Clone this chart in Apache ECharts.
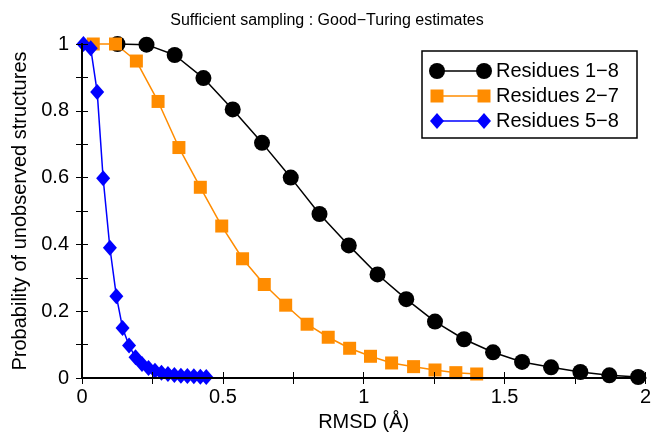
<!DOCTYPE html>
<html>
<head>
<meta charset="utf-8">
<script src="https://cdn.jsdelivr.net/npm/echarts@6/dist/echarts.min.js"></script>
<style>
html,body{margin:0;padding:0;background:#fff;}
#chart{width:654px;height:437px;}
</style>
</head>
<body>
<div id="chart"></div>
<script>
// ---- data ----
const titleText = 'Sufficient sampling : Good\u2212Turing estimates';
const xName = 'RMSD (\u00c5)';
const yName = 'Probability of unobserved structures';
const seriesNames = ['Residues 1\u22128', 'Residues 2\u22127', 'Residues 5\u22128'];

const rmsd18 = [0.126,0.229,0.329,0.431,0.535,0.639,0.741,0.843,0.947,1.049,1.151,1.253,1.356,1.459,1.562,1.665,1.769,1.872,1.974];
const prob18 = [1.0,0.998,0.967,0.898,0.804,0.704,0.600,0.491,0.397,0.310,0.236,0.169,0.116,0.077,0.048,0.032,0.018,0.008,0.003];

const rmsd27 = [0.040,0.119,0.193,0.270,0.344,0.420,0.496,0.570,0.647,0.723,0.799,0.874,0.950,1.024,1.099,1.177,1.253,1.327,1.401];
const prob27 = [1.0,1.0,0.949,0.828,0.690,0.571,0.455,0.357,0.280,0.218,0.161,0.122,0.089,0.065,0.045,0.034,0.024,0.016,0.012];

const rmsd58 = [0.005,0.031,0.054,0.075,0.099,0.122,0.144,0.167,0.190,0.213,0.236,0.259,0.282,0.305,0.328,0.351,0.374,0.397,0.420,0.441];
const prob58 = [1.0,0.987,0.856,0.598,0.390,0.245,0.150,0.097,0.062,0.042,0.030,0.022,0.016,0.012,0.009,0.007,0.006,0.005,0.004,0.003];

const xTicks = [0, 0.5, 1, 1.5, 2];
const yTicks = [0, 0.2, 0.4, 0.6, 0.8, 1];

// ---- chart ----
const FONT = 'Liberation Sans';
const colors = ['#000000', '#ff8c00', '#0000ff'];
const symbols = ['circle', 'rect', 'diamond'];
const symSizes = [16, 13, [14, 16]];
const pairs = (xs, ys) => xs.map((x, i) => [x, ys[i]]);
const seriesData = [pairs(rmsd18, prob18), pairs(rmsd27, prob27), pairs(rmsd58, prob58)];

const chart = echarts.init(document.getElementById('chart'), null, {renderer: 'canvas'});

const tickCommon = {
  axisLine: {show: true, lineStyle: {color: '#000', width: 2}},
  axisTick: {show: true, inside: true, length: 6, lineStyle: {color: '#000', width: 1}},
  minorTick: {show: true, splitNumber: 2, length: 6, lineStyle: {color: '#000', width: 1}},
  splitLine: {show: false}
};

// legend drawn as graphics
const lg = {x0: 422, y0: 51, w: 215, h: 87, rows: [71, 96, 121], lx1: 437, lx2: 484, tx: 496};
const legendGraphics = [{
  type: 'rect', shape: {x: lg.x0, y: lg.y0, width: lg.w, height: lg.h},
  style: {fill: '#fff', stroke: '#000', lineWidth: 1.5}, z: 100
}];
seriesNames.forEach((name, i) => {
  const y = lg.rows[i];
  legendGraphics.push({type: 'line', shape: {x1: lg.lx1, y1: y, x2: lg.lx2, y2: y},
    style: {stroke: colors[i], lineWidth: 1.5}, z: 101});
  [lg.lx1, lg.lx2].forEach(cx => {
    if (i === 0) legendGraphics.push({type: 'circle', shape: {cx: cx, cy: y, r: 8}, style: {fill: colors[i]}, z: 102});
    else if (i === 1) legendGraphics.push({type: 'rect', shape: {x: cx - 6.5, y: y - 6.5, width: 13, height: 13}, style: {fill: colors[i]}, z: 102});
    else legendGraphics.push({type: 'polygon', shape: {points: [[cx, y - 8], [cx + 7, y], [cx, y + 8], [cx - 7, y]]}, style: {fill: colors[i]}, z: 102});
  });
  legendGraphics.push({type: 'text', x: lg.tx, y: y, z: 102,
    style: {text: name, font: '20px "' + FONT + '"', fill: '#000', verticalAlign: 'middle', align: 'left'}});
});

const option = {
  backgroundColor: '#fff',
  animation: false,
  title: {
    text: titleText, left: 'center', top: 8,
    textStyle: {fontFamily: FONT, fontSize: 16, fontWeight: 'normal', color: '#000'}
  },
  grid: {left: 82, right: 6, top: 44, bottom: 57, containLabel: false},
  xAxis: [{
    type: 'value', min: xTicks[0], max: xTicks[xTicks.length - 1], interval: 0.5, position: 'bottom',
    name: xName, nameLocation: 'middle', nameGap: 34,
    nameTextStyle: {fontFamily: FONT, fontSize: 20, color: '#000'},
    axisLabel: {fontFamily: FONT, fontSize: 20, color: '#000', margin: 9},
    ...tickCommon, z: 10
  }, {
    type: 'value', min: xTicks[0], max: xTicks[xTicks.length - 1], interval: 0.5, position: 'top',
    axisLabel: {show: false}, ...tickCommon, z: 10
  }],
  yAxis: [{
    type: 'value', min: yTicks[0], max: yTicks[yTicks.length - 1], interval: 0.2, position: 'left',
    name: yName, nameLocation: 'middle', nameGap: 52,
    nameTextStyle: {fontFamily: FONT, fontSize: 20, color: '#000'},
    axisLabel: {fontFamily: FONT, fontSize: 20, color: '#000', margin: 13},
    ...tickCommon, z: 10
  }, {
    type: 'value', min: yTicks[0], max: yTicks[yTicks.length - 1], interval: 0.2, position: 'right',
    axisLabel: {show: false}, ...tickCommon, z: 10
  }],
  series: seriesData.map((d, i) => ({
    name: seriesNames[i], type: 'line', data: d, clip: false,
    symbol: symbols[i], symbolSize: symSizes[i], showAllSymbol: true,
    lineStyle: {color: colors[i], width: 1.5},
    itemStyle: {color: colors[i]},
    emphasis: {disabled: true}
  })),
  graphic: legendGraphics
};
chart.setOption(option);
</script>
</body>
</html>
